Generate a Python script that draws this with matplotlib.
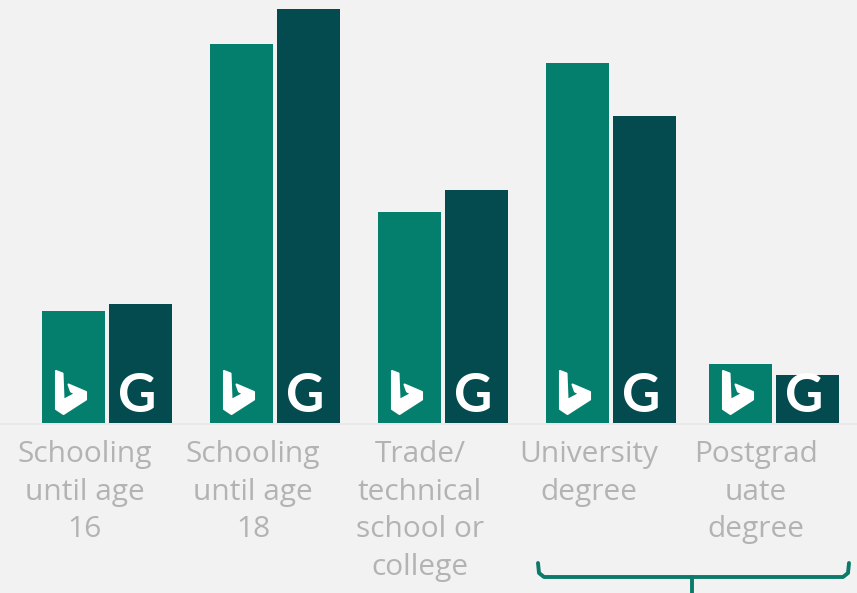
import matplotlib
matplotlib.use("Agg")
import matplotlib.pyplot as plt
from matplotlib.patches import Polygon

categories = ["Schooling\nuntil age\n16", "Schooling\nuntil age\n18",
              "Trade/\ntechnical\nschool or\ncollege", "University\ndegree",
              "Postgrad\nuate\ndegree"]
bing = [10.0, 33.8, 18.8, 32.1, 5.3]
google = [10.6, 37.0, 20.8, 27.4, 4.3]

W, H = 857, 593
BASE = 423
GROUPS = [107, 275, 443, 611, 774]
LABEL_X = [85, 253, 420, 589, 756]
BAR_W = 63
BG = "#f2f2f2"

plt.rcParams["font.family"] = ["Open Sans", "DejaVu Sans"]
fig = plt.figure(figsize=(W / 100, H / 100), dpi=100, facecolor=BG)

# bars, axes bottom sits on the baseline
ax = fig.add_axes([0, (H - BASE) / H, 1, BASE / H])
ax.set_xlim(0, W)
ax.set_ylim(0, BASE / 11.2)
ax.axis("off")

# everything else in pixel coords
over = fig.add_axes([0, 0, 1, 1], zorder=5)
over.set_xlim(0, W)
over.set_ylim(H, 0)
over.axis("off")
over.patch.set_alpha(0)

left = [g - 33.5 for g in GROUPS]
right = [g + 33.5 for g in GROUPS]
ax.bar(left, bing, width=BAR_W, color="#047f6e")
ax.bar(right, google, width=BAR_W, color="#034b4f")

over.plot([0, W], [BASE + 1, BASE + 1], color="#e8e8e8", lw=1.2)

# bing logo shape, relative to the bar's left edge and baseline
logo = [(14, -52), (20.5, -49.5), (21.5, -23), (33.5, -29.5), (29, -31.5),
        (26.5, -38.5), (44, -31), (44, -23.5), (21.5, -9), (14, -14)]

for i, g in enumerate(GROUPS):
    x0 = left[i] - BAR_W / 2
    over.add_patch(Polygon([(x0 + a, BASE + b) for a, b in logo],
                           closed=True, fc="white", ec="white", lw=1.5, joinstyle="round"))
    over.text(right[i] - 3, BASE - 26, "G", color="white", fontsize=38,
              fontfamily="Lato", fontweight="bold", ha="center", va="center")
    over.text(LABEL_X[i], 440, categories[i], color="#b3b3b3", fontsize=21.5,
              ha="center", va="top", linespacing=1.39)

# bracket under the last two groups
over.plot([538, 539, 544, 843, 848, 849], [563, 573, 577, 577, 573, 563],
          color="#0b7a69", lw=2.8, solid_capstyle="round", solid_joinstyle="round")
over.plot([692, 692], [577, H], color="#0b7a69", lw=2.8)

fig.savefig("out.png", dpi=100, facecolor=BG)
